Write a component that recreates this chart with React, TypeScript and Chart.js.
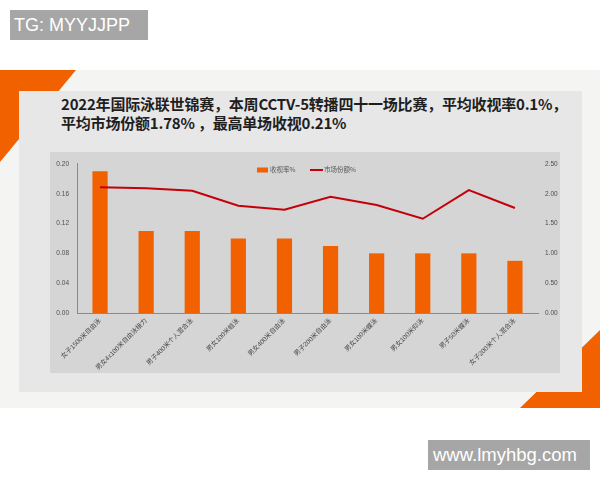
import { useEffect, useRef } from 'react'
import { Chart, registerables } from 'chart.js'

Chart.register(...registerables)

const events = [
  '女子1500米自由泳',
  '男女4x100米自由泳接力',
  '男子400米个人混合泳',
  '男女100米蛙泳',
  '男女400米自由泳',
  '男子200米自由泳',
  '男女100米蝶泳',
  '男女100米仰泳',
  '男子50米蝶泳',
  '女子200米个人混合泳',
]
const ratings = [0.19, 0.11, 0.11, 0.1, 0.1, 0.09, 0.08, 0.08, 0.08, 0.07]
const marketShare = [2.11, 2.09, 2.05, 1.8, 1.73, 1.95, 1.81, 1.58, 2.06, 1.76]
const leftTicks = [0, 0.04, 0.08, 0.12, 0.16, 0.2]
const rightTicks = [0, 0.5, 1, 1.5, 2, 2.5]

const ORANGE = '#f26100'
const RED = '#c4000a'
const TICK_FONT = { family: '"Liberation Sans", "Noto Sans CJK SC", sans-serif', size: 6.5 }

// legend sits inside the plot, so draw it by hand
const innerLegend = {
  id: 'innerLegend',
  afterDraw(chart: any) {
    const ctx = chart.ctx
    const y = 18
    ctx.save()
    ctx.font = '6.5px "Noto Sans CJK SC", sans-serif'
    ctx.textBaseline = 'middle'
    ctx.fillStyle = ORANGE
    ctx.fillRect(207, y - 2.5, 11, 5)
    ctx.fillStyle = '#595959'
    ctx.fillText(chart.data.datasets[0].label, 220, y)
    ctx.strokeStyle = RED
    ctx.lineWidth = 2
    ctx.beginPath()
    ctx.moveTo(260, y)
    ctx.lineTo(273, y)
    ctx.stroke()
    ctx.fillText(chart.data.datasets[1].label, 274, y)
    ctx.restore()
  },
}

function ComboChart() {
  const ref = useRef<HTMLCanvasElement>(null)
  useEffect(() => {
    if (!ref.current) return
    const chart = new Chart(ref.current, {
      type: 'bar',
      data: {
        labels: events,
        datasets: [
          { type: 'bar', label: '收视率%', data: ratings, backgroundColor: ORANGE, yAxisID: 'y', barPercentage: 0.33, categoryPercentage: 1, order: 1 },
          { type: 'line', label: '市场份额%', data: marketShare, borderColor: RED, borderWidth: 2, pointRadius: 0, tension: 0, yAxisID: 'y1', order: 0 },
        ],
      },
      options: {
        animation: false,
        responsive: true,
        maintainAspectRatio: false,
        layout: { padding: { top: 5, left: 0, right: 0, bottom: 0 } },
        plugins: { legend: { display: false }, tooltip: { enabled: false } },
        scales: {
          x: {
            grid: { display: false, drawTicks: false },
            border: { display: true, color: '#8a8a8a' },
            ticks: { font: TICK_FONT, color: '#474747', minRotation: 45, maxRotation: 45, autoSkip: false, padding: 4 },
            afterFit: (s: any) => { s.height = 60 },
          },
          y: {
            position: 'left',
            min: 0,
            max: 0.2,
            grid: { display: false, drawTicks: false },
            border: { display: true, color: '#8a8a8a' },
            afterBuildTicks: (s: any) => { s.ticks = leftTicks.map((v) => ({ value: v })) },
            ticks: { font: TICK_FONT, color: '#4d4d4d', padding: 8, callback: (v: any) => Number(v).toFixed(2) },
            afterFit: (s: any) => { s.width = 27 },
          },
          y1: {
            position: 'right',
            min: 0,
            max: 2.5,
            grid: { display: false, drawTicks: false },
            border: { display: false },
            afterBuildTicks: (s: any) => { s.ticks = rightTicks.map((v) => ({ value: v })) },
            ticks: { font: TICK_FONT, color: '#4d4d4d', padding: 7, callback: (v: any) => Number(v).toFixed(2) },
            afterFit: (s: any) => { s.width = 22 },
          },
        },
      },
      plugins: [innerLegend],
    } as any)
    return () => chart.destroy()
  }, [])
  return <canvas ref={ref} />
}

export default function App() {
  return (
    <div style={{ position: 'fixed', left: 0, top: 0, width: 600, height: 480, background: '#fff', overflow: 'hidden' }}>
      <div style={{ position: 'absolute', left: 10, top: 10, width: 138, height: 30, background: '#a6a6a6', color: '#fff', font: '18px "Liberation Sans", sans-serif', lineHeight: '30px', paddingLeft: 4, boxSizing: 'border-box' }}>
        TG: MYYJJPP
      </div>
      <div style={{ position: 'absolute', left: 0, top: 70, width: 600, height: 338, background: '#f4f4f2' }} />
      <div style={{ position: 'absolute', left: 0, top: 70, width: 76, height: 92, background: ORANGE, clipPath: 'polygon(0 0, 100% 0, 0 100%)' }} />
      <div style={{ position: 'absolute', left: 520, top: 330, width: 80, height: 78, background: ORANGE, clipPath: 'polygon(100% 0, 100% 100%, 0 100%)' }} />
      <div style={{ position: 'absolute', left: 19, top: 91, width: 563, height: 301, background: '#e7e7e7' }} />
      <div style={{ position: 'absolute', left: 61, top: 94, width: 520, color: '#1e1e1e', font: 'bold 15px "Noto Sans CJK SC", sans-serif', lineHeight: '19px', letterSpacing: '-0.2px', whiteSpace: 'pre' }}>
        <div>2022年国际泳联世锦赛，本周CCTV-5转播四十一场比赛，平均收视率0.1%，</div>
        <div>平均市场份额1.78% ，最高单场收视0.21%</div>
      </div>
      <div style={{ position: 'absolute', left: 50, top: 152, width: 510, height: 221, background: '#d5d5d5' }}>
        <ComboChart />
      </div>
      <div style={{ position: 'absolute', left: 428, top: 440, width: 162, height: 30, background: '#a6a6a6', color: '#fff', font: '18.5px "Liberation Sans", sans-serif', lineHeight: '30px', paddingLeft: 5, boxSizing: 'border-box' }}>
        www.lmyhbg.com
      </div>
    </div>
  )
}
